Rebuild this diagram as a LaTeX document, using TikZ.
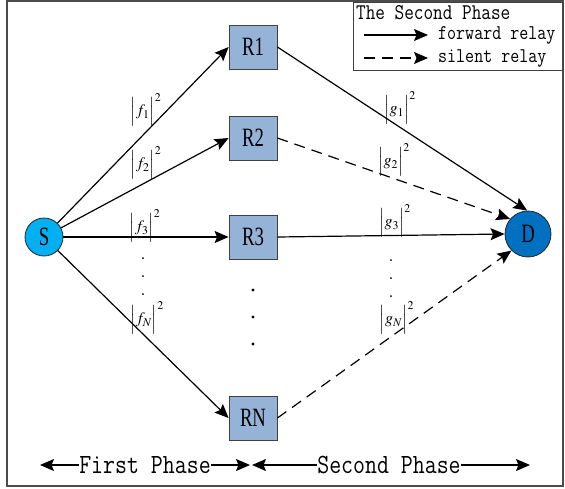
\documentclass[tikz,border=0pt]{standalone}
\usepackage{mathptmx}
\usepackage{fontspec}
\setmainfont{Liberation Serif}
\newfontfamily\monof{Latin Modern Mono}
\usetikzlibrary{arrows.meta}
\definecolor{relayblue}{HTML}{95B3D7}
\definecolor{srcblue}{HTML}{00B0F0}
\definecolor{dstblue}{HTML}{0070C0}
\newcommand{\nlab}[1]{\scalebox{0.85}[1.2]{#1}}
\newcommand{\mlab}[1]{\scalebox{1}[1.2]{#1}}
\newcommand{\chn}[2]{$\Bigl|#1_{#2}\Bigr|^2$}
\begin{document}
\begin{tikzpicture}[x=1pt,y=-1pt,
  relay/.style={draw=black!75, fill=relayblue, minimum width=48pt, minimum height=44pt, inner sep=0pt, line width=0.8pt, font=\fontsize{22}{22}\selectfont},
  endpt/.style={circle, draw=black!85, line width=0.8pt, inner sep=0pt, font=\fontsize{22}{22}\selectfont},
  arr/.style={line width=1.2pt, -{Stealth[length=14pt,width=12pt,inset=2.5pt]}},
  darr/.style={arr, dash pattern=on 11pt off 7pt},
  chan/.style={font=\fontsize{16}{16}\selectfont, inner sep=0pt},
  legtitle/.style={font=\monof\fontsize{18.7}{18}\selectfont, inner sep=0pt, anchor=west},
  legtext/.style={font=\monof\fontsize{17.5}{17}\selectfont, inner sep=0pt, anchor=west},
  phasetext/.style={font=\monof\fontsize{23.2}{23}\selectfont, inner sep=0pt},
  dot/.style={fill=black}
]
\useasboundingbox (0,0) rectangle (565,488);
% outer frame
\draw[line width=1.2pt, black!70] (7,1) rectangle (563,486);
% legend
\draw[line width=0.9pt, black!75] (353,2) rectangle (563,70);
\node[legtitle] (lt) at (356,13) {\mlab{The Second Phase}};
\coordinate (l1a) at (364,35);
\coordinate (l1b) at (428,35);
\draw[arr] (l1a) -- (l1b);
\node[legtext] (lf) at (438,35) {\mlab{forward relay}};
\coordinate (l2a) at (364,58);
\coordinate (l2b) at (428,58);
\draw[darr] (l2a) -- (l2b);
\node[legtext] (ls) at (438,58) {\mlab{silent relay}};
% nodes
\node[endpt, fill=srcblue, minimum size=38pt] (S) at (44,237) {\nlab{S}};
\node[endpt, fill=dstblue, minimum size=46pt] (D) at (528,234) {\nlab{D}};
\node[relay] (R1) at (253,47) {\nlab{R1}};
\node[relay] (R2) at (253,138) {\nlab{R2}};
\node[relay] (R3) at (253,237) {\nlab{R3}};
\node[relay] (RN) at (253,418) {\nlab{RN}};
% first-phase links
\draw[arr] (S) -- (R1.west);
\draw[arr] (S) -- (R2.west);
\draw[arr] (S) -- (R3.west);
\draw[arr] (S) -- (RN.west);
% second-phase links
\draw[arr] (R1.east) -- (D.92);
\draw[darr] (R2.east) -- (D.140);
\draw[arr] (R3.east) -- (D.west);
\draw[darr] (RN.east) -- (D.225);
% channel labels
\node[chan] (f1) at (146,110) {\chn{f}{1}};
\node[chan] (f2) at (146,163) {\chn{f}{2}};
\node[chan] (f3) at (145,226) {\chn{f}{3}};
\node[chan] (fN) at (147,318) {\chn{f}{N}};
\node[chan] (g1) at (400,108) {\chn{g}{1}};
\node[chan] (g2) at (394,160) {\chn{g}{2}};
\node[chan] (g3) at (395,221) {\chn{g}{3}};
\node[chan] (gN) at (397,318) {\chn{g}{N}};
% dots
\fill[dot] (143,258) circle (1pt) (143,276) circle (1pt) (143,294) circle (1pt);
\fill[dot] (391,260) circle (1pt) (391,278) circle (1pt) (391,296) circle (1pt);
\fill[dot] (253,290) circle (1.6pt) (253,317) circle (1.6pt) (253,344) circle (1.6pt);
% phases
\node[phasetext] (FP) at (145,465) {\mlab{First Phase}};
\node[phasetext] (SP) at (389,465) {\mlab{Second Phase}};
\coordinate (fpl) at (40,465);
\coordinate (fpr) at (250,465);
\coordinate (spl) at (252,465);
\coordinate (spr) at (530,465);
\draw[arr] (FP.west) -- (fpl);
\draw[arr] (FP.east) -- (fpr);
\draw[arr] (SP.west) -- (spl);
\draw[arr] (SP.east) -- (spr);
\end{tikzpicture}
\end{document}
